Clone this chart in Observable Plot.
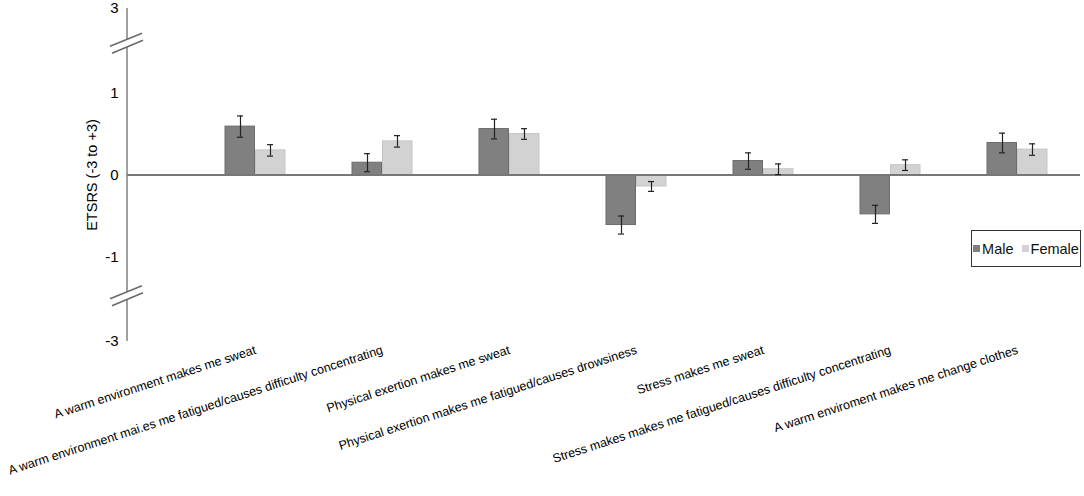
<!DOCTYPE html>
<html><head><meta charset="utf-8">
<script src="https://cdn.jsdelivr.net/npm/d3@7"></script>
<script src="https://cdn.jsdelivr.net/npm/@observablehq/plot@0.6"></script>
<style>
body{margin:0;background:#fff;font-family:Arial,"Liberation Sans",sans-serif;}
#wrap{position:relative;width:1084px;height:496px;}
#legend{position:absolute;left:971px;top:230px;width:110px;height:37px;border:1px solid #333;box-sizing:border-box;display:flex;align-items:center;justify-content:center;font-size:14.5px;color:#111;gap:8px;background:#fff;}
#legend span.sw{display:inline-block;width:7px;height:7px;margin-right:2px;vertical-align:middle;position:relative;top:-1px;}
</style></head><body><div id="wrap"></div>
<script>
const categories = [
  "A warm environment makes me sweat",
  "A warm environment mai.es me fatigued/causes difficulty concentrating",
  "Physical exertion makes me sweat",
  "Physical exertion makes me fatigued/causes drowsiness",
  "Stress makes me sweat",
  "Stress makes makes me fatigued/causes difficulty concentrating",
  "A warm enviroment makes me change clothes"
];
const series = ["Male", "Female"];
const maleValues = [0.59, 0.15, 0.56, -0.61, 0.17, -0.48, 0.39];
const maleErrors = [0.13, 0.11, 0.12, 0.11, 0.10, 0.11, 0.12];
const femaleValues = [0.30, 0.41, 0.50, -0.14, 0.07, 0.12, 0.31];
const femaleErrors = [0.07, 0.07, 0.065, 0.06, 0.065, 0.065, 0.07];
const yTicks = [-3, -1, 0, 1, 3];
const colors = {Male: "#808080", Female: "#d2d2d2"};
const strokes = {Male: "#6c6c6c", Female: "#c6c6c6"};

const rows = [];
categories.forEach((c, i) => {
  rows.push({category: c, sex: "Male", value: maleValues[i], err: maleErrors[i]});
  rows.push({category: c, sex: "Female", value: femaleValues[i], err: femaleErrors[i]});
});
const maleRows = rows.filter(d => d.sex === "Male");
const femaleRows = rows.filter(d => d.sex === "Female");

// broken axis: |v| <= 1 is linear, beyond 1 is compressed
const squeeze = 0.515;
const tf = v => Math.abs(v) <= 1 ? v : Math.sign(v) * (1 + (Math.abs(v) - 1) * squeeze);

// break marks between the outer ticks
const breaks = [(yTicks[3] + yTicks[4]) / 2, (yTicks[0] + yTicks[1]) / 2];

function axisDecor(index, scales, values, dimensions) {
  const x0 = dimensions.marginLeft;
  const y = v => scales.y(tf(v));
  const g = d3.create("svg:g");
  g.append("line").attr("x1", x0).attr("x2", x0)
    .attr("y1", y(yTicks[4])).attr("y2", y(yTicks[0]))
    .attr("stroke", "#808080").attr("stroke-width", 1.5);
  for (const b of breaks) {
    const cy = y(b) + (b > 0 ? -2 : 2);
    g.append("polygon")
      .attr("points", `${x0-17},${cy-2} ${x0+15},${cy-15} ${x0+16},${cy-8} ${x0-15},${cy+5}`)
      .attr("fill", "#fff");
    g.append("line").attr("x1", x0-17).attr("y1", cy-2).attr("x2", x0+15).attr("y2", cy-15)
      .attr("stroke", "#6a6a6a").attr("stroke-width", 1.6);
    g.append("line").attr("x1", x0-15).attr("y1", cy+5).attr("x2", x0+16).attr("y2", cy-8)
      .attr("stroke", "#6a6a6a").attr("stroke-width", 1.6);
  }
  return g.node();
}

const chart = Plot.plot({
  width: 1084,
  height: 496,
  marginTop: 8,
  marginBottom: 155,
  marginLeft: 127,
  marginRight: 4,
  style: {fontFamily: "Arial, 'Liberation Sans', sans-serif", background: "#fff"},
  x: {type: "band", domain: categories, range: [190.5, 1080.5], paddingInner: 0.528, paddingOuter: 0.264},
  y: {type: "linear", transform: tf, domain: [tf(-3) , tf(3)]},
  marks: [
    Plot.barY(maleRows, {x: "category", y1: 0, y2: "value", fill: colors.Male, stroke: strokes.Male, strokeWidth: 1, insetRight: 30.5}),
    Plot.barY(femaleRows, {x: "category", y1: 0, y2: "value", fill: colors.Female, stroke: strokes.Female, strokeWidth: 1, insetLeft: 30.5}),
    Plot.ruleY([0], {stroke: "#777", strokeWidth: 2}),
    Plot.ruleX(maleRows, {x: "category", y1: d => d.value - d.err, y2: d => d.value + d.err, dx: -15, stroke: "#222", strokeWidth: 1.2}),
    Plot.ruleX(femaleRows, {x: "category", y1: d => d.value - d.err, y2: d => d.value + d.err, dx: 15, stroke: "#222", strokeWidth: 1.2}),
    Plot.tickY(maleRows, {x: "category", y: d => d.value + d.err, insetLeft: 12, insetRight: 42, stroke: "#222", strokeWidth: 1.2}),
    Plot.tickY(maleRows, {x: "category", y: d => d.value - d.err, insetLeft: 12, insetRight: 42, stroke: "#222", strokeWidth: 1.2}),
    Plot.tickY(femaleRows, {x: "category", y: d => d.value + d.err, insetLeft: 42, insetRight: 12, stroke: "#222", strokeWidth: 1.2}),
    Plot.tickY(femaleRows, {x: "category", y: d => d.value - d.err, insetLeft: 42, insetRight: 12, stroke: "#222", strokeWidth: 1.2}),
    axisDecor,
    Plot.axisY(yTicks, {tickFormat: d => String(d), tickSize: 0, tickPadding: 9, fontSize: 15, color: "#000", label: null}),
    Plot.axisY({ticks: [], label: "ETSRS (-3 to +3)", labelAnchor: "center", labelOffset: 41, labelArrow: "none", fontSize: 14.5, color: "#000"}),
    Plot.axisX({tickRotate: -18, tickSize: 0, tickPadding: 8, fontSize: 12.5, color: "#000", label: null})
  ]
});
document.getElementById("wrap").appendChild(chart);
const legend = document.createElement("div");
legend.id = "legend";
legend.innerHTML = series.map(s => `<div><span class="sw" style="background:${colors[s]}"></span>${s}</div>`).join("");
document.getElementById("wrap").appendChild(legend);
</script></body></html>
